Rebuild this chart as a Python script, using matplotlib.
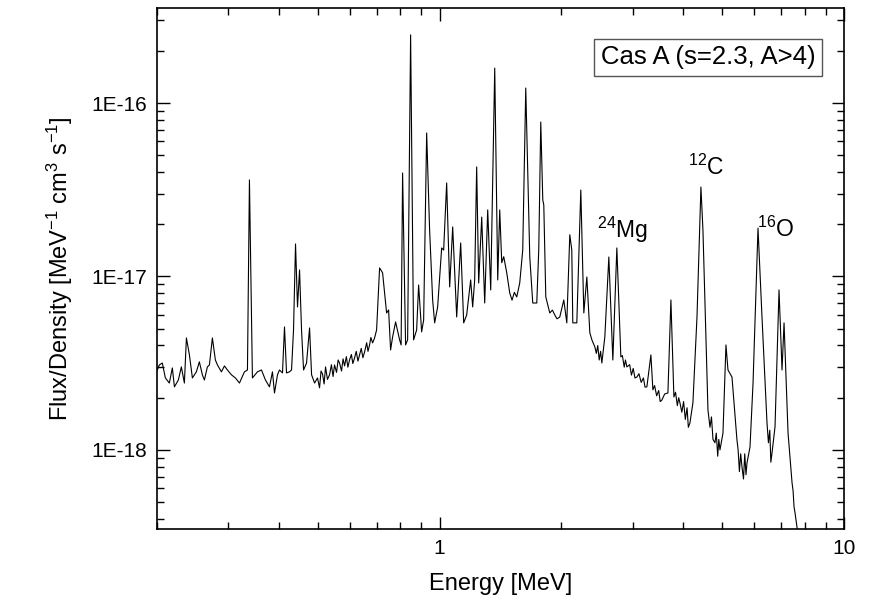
import matplotlib
matplotlib.use("Agg")
import matplotlib.pyplot as plt
import matplotlib.ticker as mticker
import numpy as np

plt.rcParams['font.family'] = ['Liberation Sans', 'DejaVu Sans']
plt.rcParams['mathtext.default'] = 'regular'

# spectrum: energy in MeV, flux in units of 1e-18
energy_mev = [
    0.2004, 0.2027, 0.2062, 0.2098, 0.2146, 0.2183, 0.2209, 0.2259, 0.2298, 0.2338,
    0.2365, 0.2406, 0.2447, 0.2503, 0.2546, 0.2590, 0.2620, 0.2665, 0.2696, 0.2742,
    0.2789, 0.2822, 0.2887, 0.2937, 0.2987, 0.3056, 0.3126, 0.3199, 0.3291, 0.3348,
    0.3386, 0.3444, 0.3544, 0.3626, 0.3709, 0.3795, 0.3860, 0.3905, 0.3972, 0.4018,
    0.4087, 0.4134, 0.4182, 0.4254, 0.4303, 0.4352, 0.4402, 0.4452, 0.4504, 0.4555,
    0.4608, 0.4687, 0.4768, 0.4823, 0.4906, 0.4989,
    0.5047, 0.5090, 0.5133, 0.5180, 0.5222, 0.5280, 0.5342, 0.5400, 0.5450, 0.5497,
    0.5560, 0.5610, 0.5656, 0.5720, 0.5770, 0.5820, 0.5880, 0.5930, 0.5987, 0.6050,
    0.6100, 0.6160, 0.6220, 0.6280, 0.6339, 0.6400, 0.6460, 0.6522, 0.6600, 0.6650,
    0.6710, 0.6760, 0.6826, 0.6900, 0.6984,
    0.7104, 0.7226, 0.7393, 0.7478, 0.7563, 0.7650, 0.7782, 0.7961, 0.8030, 0.8098,
    0.8237, 0.8333, 0.8476, 0.8621, 0.8772, 0.8872, 0.9025, 0.9129, 0.9287, 0.9445,
    0.9609, 0.9719, 0.9886, 1.0115, 1.0231, 1.0407, 1.0587, 1.0770, 1.1019, 1.1272,
    1.1466, 1.1663, 1.1931, 1.2068, 1.2206, 1.2346, 1.2488, 1.2706, 1.2924, 1.3147,
    1.3374, 1.3683, 1.3918, 1.4078, 1.4240, 1.4403, 1.4651, 1.4904, 1.5100, 1.5300,
    1.5510, 1.5776, 1.6048, 1.6327, 1.6703, 1.6990, 1.7383, 1.7580, 1.7783, 1.7989,
    1.8092, 1.8299, 1.8719, 1.9000, 1.9261, 1.9500, 1.9816, 2.0274, 2.0624, 2.0978,
    2.1218, 2.1340, 2.1834, 2.2336, 2.2723, 2.3117, 2.3515, 2.3800, 2.4201, 2.4400,
    2.4600, 2.4800, 2.5000, 2.5177, 2.5610, 2.6201, 2.6805, 2.7424, 2.8054, 2.8300,
    2.8600, 2.8800, 2.9035, 2.9500, 2.9800, 3.0100, 3.0400, 3.0733, 3.1100, 3.1500,
    3.1900, 3.2200, 3.2537, 3.3289, 3.3670, 3.4000, 3.4400, 3.4800, 3.5100, 3.5441,
    3.6000, 3.6676, 3.7307, 3.7948, 3.8300, 3.8700, 3.9000, 3.9273, 3.9700, 4.0100,
    4.0500, 4.0900, 4.1200, 4.1573, 4.2288, 4.3278, 4.4259, 4.4771, 4.6067, 4.6600,
    4.7000, 4.7400, 4.7940, 4.8300, 4.8700, 4.9000, 4.9329, 5.0177, 5.1039, 5.1630,
    5.2820, 5.4340, 5.4700, 5.5100, 5.5500, 5.5915, 5.6400, 5.6800, 5.7200, 5.7535,
    5.8527, 5.9546, 6.1254, 6.2661, 6.4474, 6.5000, 6.5500, 6.5900, 6.6340, 6.7486,
    6.9041, 7.0230, 7.1043, 7.2681, 7.4360, 7.4800, 7.5200, 7.5637, 7.6939,
]
flux_1e18 = [
    2.89, 3.09, 3.17, 2.60, 2.43, 2.97, 2.31, 2.53, 3.01, 2.43,
    4.42, 3.53, 2.60, 2.82, 3.22, 2.71, 2.53, 3.01, 3.09, 4.42,
    3.30, 3.09, 2.82, 3.05, 2.89, 2.71, 2.60, 2.43, 2.82, 2.89,
    36.0, 2.60, 2.82, 2.89, 2.53, 2.31, 2.82, 2.13, 2.71, 2.89,
    2.78, 5.12, 2.78, 2.82, 2.89, 4.92, 15.4, 6.67, 10.9, 4.92,
    2.89, 3.17, 5.05, 2.71, 2.43, 2.60,
    2.28, 2.85, 2.74, 2.40, 3.01, 2.55, 2.71, 3.10, 2.65, 3.09,
    2.80, 3.30, 3.17, 2.85, 3.35, 3.05, 3.45, 3.00, 3.30, 3.55,
    3.15, 3.39, 3.70, 3.25, 3.53, 3.85, 3.40, 3.67, 4.15, 3.70,
    4.03, 4.45, 4.14, 4.40, 4.92,
    11.2, 10.5, 6.16, 6.41, 3.77, 4.48, 5.47, 4.31, 4.03, 39.5,
    4.03, 4.31, 247.0, 4.31, 4.92, 8.93, 4.79, 5.61, 67.2, 18.5,
    7.32, 5.40, 6.67, 14.6, 14.2, 34.6, 8.70, 19.3, 5.84, 15.6,
    5.40, 6.00, 9.55, 6.67, 9.55, 42.8, 9.17, 22.0, 7.03, 24.2,
    8.36, 159.0, 9.55, 24.2, 12.0, 13.0, 10.5, 8.03, 7.30, 8.10,
    7.62, 9.17, 14.2, 122.0, 13.0, 7.03, 7.03, 14.2, 77.7, 27.6,
    25.8, 7.62, 6.16, 6.40, 6.00, 5.70, 5.84, 7.32, 5.40, 17.4,
    14.2, 5.40, 5.40, 31.5, 6.16, 9.93, 4.73, 4.30, 3.92, 3.60,
    4.00, 3.30, 3.70, 3.17, 4.48, 12.95, 3.30, 14.6, 3.44, 3.50,
    3.00, 3.30, 3.01, 3.10, 2.70, 2.95, 2.60, 2.63, 2.75, 2.45,
    2.60, 2.30, 2.31, 3.53, 2.22, 2.35, 2.05, 2.20, 1.90, 1.94,
    2.10, 2.13, 7.32, 2.02, 2.15, 1.80, 2.00, 1.87, 1.65, 1.90,
    1.50, 1.75, 1.35, 1.43, 1.87, 5.84, 32.8, 18.5, 1.70, 1.35,
    1.55, 1.15, 1.10, 1.25, 0.92, 1.15, 1.00, 1.25, 4.03, 2.89,
    2.63, 1.14, 1.00, 0.75, 0.95, 0.798, 0.68, 0.95, 0.72, 0.842,
    1.04, 2.43, 19.0, 5.84, 1.43, 1.10, 1.30, 0.85, 0.961, 1.36,
    8.36, 2.89, 5.40, 1.25, 0.645, 0.58, 0.47, 0.433, 0.324,
]

y_ticks = [1e-18, 1e-17, 1e-16]
x_ticks = [1, 10]
box_label = 'Cas A (s=2.3, A>4)'
line_labels = [r'$^{24}$Mg', r'$^{12}$C', r'$^{16}$O']
label_pos = [(0.640, 0.5585), (0.773, 0.6795), (0.8734, 0.5605)]

fig = plt.figure(figsize=(8.72, 6.05), dpi=100)
ax = fig.add_axes([0.180, 0.1256, 0.788, 0.8612])

flux = np.array(flux_1e18) * 1e-18
ax.plot(energy_mev, flux, color='black', lw=0.8)

ax.set_xscale('log')
ax.set_yscale('log')
ax.set_xlim(0.2, 10)
ax.set_ylim(3.5e-19, 3.53e-16)

ax.set_xticks(x_ticks)
ax.xaxis.set_major_formatter(mticker.FuncFormatter(lambda v, p: '%g' % v))
ax.xaxis.set_minor_formatter(mticker.NullFormatter())
ax.xaxis.set_minor_locator(mticker.LogLocator(base=10, subs=np.arange(2, 10)))
ax.set_yticks(y_ticks)
ax.yaxis.set_major_formatter(mticker.FuncFormatter(
    lambda v, p: '1E%d' % int(round(np.log10(v)))))
ax.yaxis.set_minor_locator(mticker.LogLocator(base=10, subs=np.arange(2, 10)))
ax.yaxis.set_minor_formatter(mticker.NullFormatter())

ax.tick_params(which='both', direction='in', top=True, right=True, width=1.0)
ax.tick_params(which='major', length=9, labelsize=15, pad=7)
ax.tick_params(which='minor', length=5)
for spine in ax.spines.values():
    spine.set_linewidth(1.2)

ax.set_xlabel('Energy [MeV]', fontsize=17, labelpad=11)
ax.set_ylabel(r'Flux/Density [MeV$^{-1}$ cm$^{3}$ s$^{-1}$]', fontsize=17, labelpad=12)

ax.text(0.958, 0.905, box_label, transform=ax.transAxes, ha='right', va='center',
        fontsize=18.5,
        bbox=dict(boxstyle='square,pad=0.25', fc='white', ec='#555555', lw=1.0))

for lbl, (lx, ly) in zip(line_labels, label_pos):
    ax.text(lx, ly, lbl, transform=ax.transAxes, ha='left', va='baseline', fontsize=16.5)

plt.savefig('out.png', dpi=100)
